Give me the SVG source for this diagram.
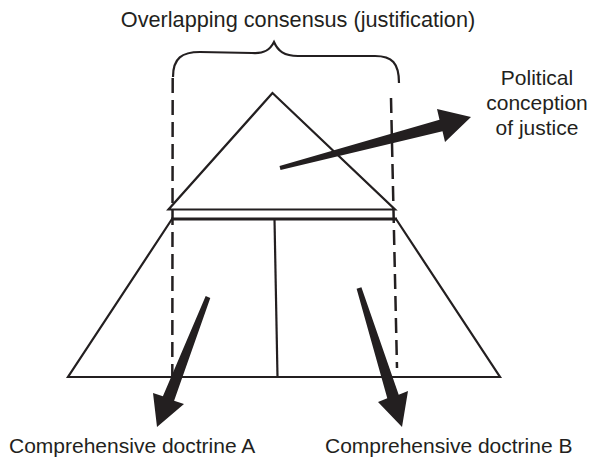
<svg xmlns="http://www.w3.org/2000/svg" width="589" height="461" viewBox="0 0 589 461">
<style>
  .ln { fill: none; stroke: #231f20; stroke-width: 2.2; stroke-linejoin: miter; }
  .thick { fill: none; stroke: #231f20; stroke-width: 3; }
  .dash { fill: none; stroke: #231f20; stroke-width: 2.5; stroke-dasharray: 15 7; }
  .arrow { fill: #231f20; stroke: none; }
  .lbl { font-family: "Liberation Sans", Arial, sans-serif; font-size: 21px; fill: #231f20; }
  .title { font-size: 21.7px; }
</style>
<rect width="589" height="461" fill="#ffffff"/>
<g id="brace">
  <path class="ln" d="M173,77 C173,58 182,52 200,52 L252,53 C264,54 270,50 274,42 C278,51 284,56 298,56 L375,56 C392,56 399,63 399,83" stroke-width="2.5"/>
</g>
<g id="overlap-triangle">
  <polygon class="ln" points="272.5,93 168.5,209.5 395,209.5"/>
</g>
<g id="society-trapezoid">
  <polyline class="ln" points="172,219 68,377 500,377 396,219"/>
  <line class="thick" x1="171" y1="219" x2="397" y2="219"/>
  <line class="ln" x1="274.5" y1="219" x2="277.5" y2="377"/>
</g>
<g id="connectors">
  <line class="dash" x1="172.7" y1="78" x2="172.3" y2="376"/>
  <line class="dash" x1="391" y1="98" x2="397" y2="368"/>
  <polygon class="arrow" points="279.5,166 439.5,119.7 437,109 471,117 445,142 442.5,131.3 280.5,170"/>
  <polygon class="arrow" points="205.7,296.1 162.9,396.3 153,393 157,427 184,404 174.1,400.7 210.3,297.9"/>
  <polygon class="arrow" points="356.6,288.7 387.3,398.3 378,402 402,427 408,391 398.7,394.7 361.4,287.3"/>
</g>
<g id="labels">
  <text class="lbl title" x="298" y="27" text-anchor="middle">Overlapping consensus (justification)</text>
  <text class="lbl" x="537" y="85" text-anchor="middle">Political</text>
  <text class="lbl" x="537" y="110" text-anchor="middle">conception</text>
  <text class="lbl" x="537" y="135" text-anchor="middle">of justice</text>
  <text class="lbl" x="9" y="453">Comprehensive doctrine A</text>
  <text class="lbl" x="325" y="453">Comprehensive doctrine B</text>
</g>
</svg>
